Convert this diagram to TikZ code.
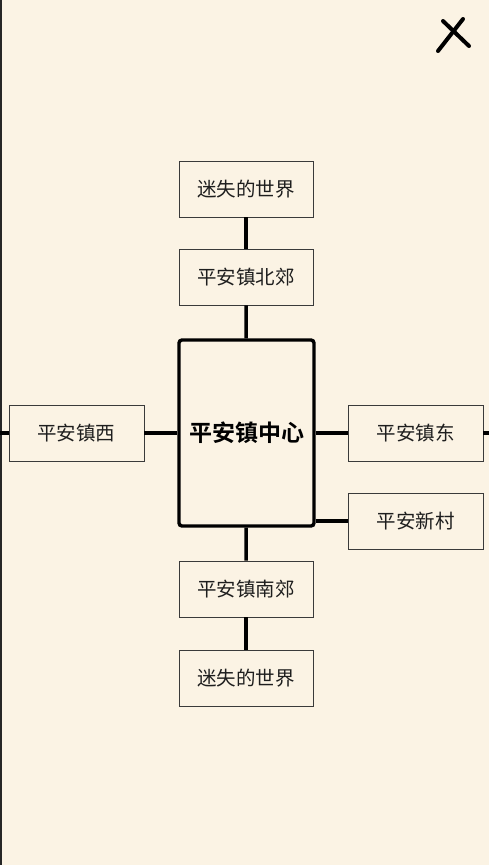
\documentclass[tikz,border=0pt]{standalone}
\usepackage{fontspec}
\usepackage{xcolor}
\usepackage{tikz}
\usetikzlibrary{positioning}
\newfontfamily\cjk{Noto Sans CJK SC}[BoldFont={Noto Sans CJK SC Bold}]
\definecolor{paper}{HTML}{FBF3E4}
\definecolor{ink}{HTML}{1E1E1E}
\definecolor{frame}{HTML}{3A3A3A}

\begin{document}
\begin{tikzpicture}[x=1pt, y=-1pt, font=\cjk,
  place/.style={draw=frame, line width=0.8pt, fill=paper, text=ink, font=\cjk\fontsize{19.5}{21}\selectfont,
    minimum width=134pt, minimum height=56pt, inner sep=0pt},
  hub/.style={draw=black, line width=3.4pt, rounded corners=3pt, fill=paper, text=black,
    font=\cjk\bfseries\fontsize{23}{25}\selectfont, minimum width=135pt, minimum height=186pt, inner sep=0pt},
  link/.style={line width=3.6pt, black}]
% —— 底色与边界 ——
\fill[paper] (0,0) rectangle (489,865);
\useasboundingbox (0,0) rectangle (489,865);
\draw[line width=1.6pt, black!85] (0.8,0) -- (0.8,865);
% 关闭按钮
\draw[line width=4pt, line cap=round, black] (443,21) -- (469,46);
\draw[line width=4pt, line cap=round, black] (463,19) -- (438,51);
% —— 地点 ——
\node[hub] (center) at (246.5,433){平安镇中心};
\node[place] (north) at (246,277){平安镇北郊};
\node[place] (lostn) at (246,189){迷失的世界};
\node[place] (south) at (246,589){平安镇南郊};
\node[place] (losts) at (246,678){迷失的世界};
\node[place, minimum width=135pt] (west) at (76.5,433){平安镇西};
\node[place, minimum width=135pt] (east) at (415.5,433){平安镇东};
\node[place, minimum width=135pt] (village) at (415.5,521){平安新村};
\coordinate (wend) at (0,433);
\coordinate (eend) at (489,433);
% —— 通路 ——
\draw[link] (lostn) -- (north);
\draw[link] (north) -- (center);
\draw[link] (center) -- (south);
\draw[link] (south) -- (losts);
\draw[link] (center) -- (west);
\draw[link] (center) -- (east);
\draw[link] (village.west -| center.east) -- (village.west);
\draw[link] (west) -- (wend);
\draw[link] (east) -- (eend);
\end{tikzpicture}
\end{document}
